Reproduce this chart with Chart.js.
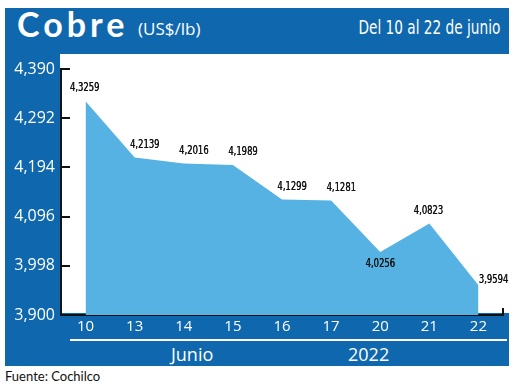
<!DOCTYPE html>
<html>
<head>
<meta charset="utf-8">
<script src="https://cdn.jsdelivr.net/npm/chart.js@4.4.1/dist/chart.umd.min.js"></script>
<style>
  html, body { margin:0; padding:0; background:#fff; }
  #wrap { position:relative; width:520px; height:387px; overflow:hidden; }
  .blue { position:absolute; background:#0f68ad; }
  .txt { position:absolute; white-space:nowrap; color:#fff; }
  #chart { position:absolute; left:0; top:0; }
</style>
</head>
<body>
<div id="wrap">
  <div class="blue" style="left:5px;top:8px;width:504px;height:46px"></div>
  <div class="blue" style="left:5px;top:8px;width:55px;height:358px"></div>
  <div class="blue" style="left:5px;top:313px;width:504px;height:53px"></div>
  <div style="position:absolute;left:70px;top:339px;width:437px;height:2px;background:#fff"></div>

  <div class="txt" style="left:17px;top:3px;font:bold 34px Lato, sans-serif;letter-spacing:4px">Cobre</div>
  <div class="txt" style="left:138px;top:17px;font:17px 'Open Sans', sans-serif">(US$/lb)</div>
  <div class="txt" style="right:20px;top:16px;font:19px 'DejaVu Sans Condensed', sans-serif;transform:scaleX(0.8);transform-origin:right center">Del 10 al 22 de junio</div>
  <div class="txt" style="left:171px;top:342px;font:18px 'Open Sans', sans-serif">Junio</div>
  <div class="txt" style="left:348px;top:342px;font:18px 'Open Sans', sans-serif">2022</div>
  <div class="txt" style="left:5px;top:368px;color:#111;font:13px Lato, sans-serif">Fuente: Cochilco</div>

  <canvas id="chart" width="520" height="387"></canvas>
</div>
<script>
/* ======= Datos ======= */
const dias = ['10', '13', '14', '15', '16', '17', '20', '21', '22'];
const precios = [4.3259, 4.2139, 4.2016, 4.1989, 4.1299, 4.1281, 4.0256, 4.0823, 3.9594];
const yTicks = [3.900, 3.998, 4.096, 4.194, 4.292, 4.390];
// donde va cada etiqueta respecto del punto
const labelPos = ['above', 'aboveRight', 'aboveRight', 'aboveRight', 'aboveRight', 'aboveRight', 'below', 'above', 'right'];

const AZUL_CLARO = '#55b2e2';
const fmt = (v, d) => v.toFixed(d).replace('.', ',');

/* ======= Plugins ======= */
const axisMarks = {
  id: 'axisMarks',
  afterDraw(chart) {
    const y = chart.scales.y, ctx = chart.ctx;
    const { left, right, bottom } = chart.chartArea;
    ctx.save();
    ctx.strokeStyle = '#111';
    ctx.lineWidth = 2;
    for (const v of yTicks) {
      const py = Math.round(y.getPixelForValue(v));
      ctx.beginPath();
      ctx.moveTo(left - 1, py);
      ctx.lineTo(left + 9, py);
      ctx.stroke();
    }
    // marquita al final del eje x
    ctx.beginPath();
    ctx.moveTo(right, bottom - 7);
    ctx.lineTo(right, bottom);
    ctx.stroke();
    ctx.restore();
  }
};

const valueLabels = {
  id: 'valueLabels',
  afterDatasetsDraw(chart) {
    const ctx = chart.ctx;
    const meta = chart.getDatasetMeta(0);
    ctx.save();
    ctx.fillStyle = '#111';
    ctx.font = '12px "DejaVu Sans Condensed", sans-serif';
    ctx.textAlign = 'center';
    ctx.textBaseline = 'middle';
    meta.data.forEach((pt, i) => {
      let dx = 0, dy = -13;
      if (labelPos[i] === 'above') { dx = -1; dy = -13; }
      if (labelPos[i] === 'aboveRight') { dx = 10; dy = -13; }
      if (labelPos[i] === 'below') { dx = 0; dy = 12; }
      if (labelPos[i] === 'right') { dx = 15; dy = -5; }
      // texto angosto como el original
      ctx.save();
      ctx.translate(pt.x + dx, pt.y + dy);
      ctx.scale(0.78, 1);
      ctx.fillText(fmt(precios[i], 4), 0, 0);
      ctx.fillText(fmt(precios[i], 4), 0.4, 0);
      ctx.restore();
    });
    ctx.restore();
  }
};

/* ======= Chart ======= */
new Chart(document.getElementById('chart'), {
  type: 'line',
  data: {
    labels: dias,
    datasets: [{
      data: precios,
      fill: 'start',
      backgroundColor: AZUL_CLARO,
      borderWidth: 0,
      pointRadius: 0,
      tension: 0
    }]
  },
  options: {
    responsive: false,
    animation: false,
    layout: { padding: { left: 0, top: 69, right: 17, bottom: 50 } },
    plugins: { legend: { display: false }, tooltip: { enabled: false } },
    scales: {
      x: {
        type: 'category',
        offset: true,
        grid: { display: false, drawTicks: false },
        border: { display: true, color: '#111', width: 2 },
        ticks: {
          color: '#fff', padding: 3, maxRotation: 0, autoSkip: false,
          font: { family: "'Open Sans', sans-serif", size: 15 }
        },
        afterFit(s) { s.height = 22; }
      },
      y: {
        min: 3.9,
        max: 4.39,
        grid: { display: false, drawTicks: false },
        border: { display: true, color: '#111', width: 2 },
        afterBuildTicks(s) { s.ticks = yTicks.map(v => ({ value: v })); },
        ticks: {
          color: '#fff', padding: 6,
          font: { family: "'Open Sans', sans-serif", size: 16 },
          callback: v => fmt(v, 3)
        },
        afterFit(s) { s.width = 61; }
      }
    }
  },
  plugins: [axisMarks, valueLabels]
});
</script>
</body>
</html>
